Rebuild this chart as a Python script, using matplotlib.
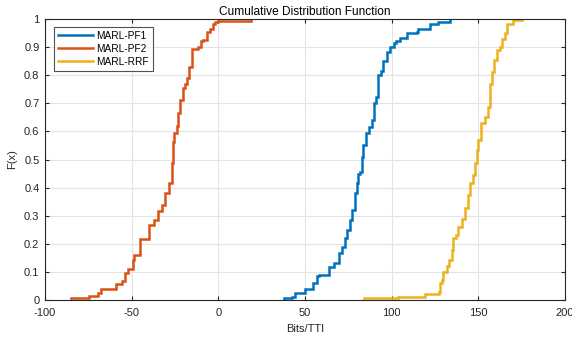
import matplotlib
matplotlib.use("Agg")
import matplotlib.pyplot as plt
import numpy as np

plt.rcParams['font.family'] = ['Liberation Sans', 'DejaVu Sans']
plt.rcParams['axes.unicode_minus'] = False

# Step breakpoints (x) and CDF level after each step (F)
pf1_x = [38, 42.3, 44.2, 50, 54.8, 56.7, 58.1, 64.1, 66.7, 69.8, 71.2, 73.1, 74.4, 76, 76.9,
         78.8, 80.2, 80.8, 81.7, 82.7, 83.6, 85.2, 87.1, 88.5, 89.8, 91, 92.3, 93.8, 95.2,
         97.5, 99, 101.3, 102.5, 104.8, 108.7, 114.4, 115.4, 122.1, 127, 133.7]
pf1_F = [0.006, 0.012, 0.026, 0.038, 0.059, 0.085, 0.09, 0.119, 0.13, 0.166, 0.19, 0.219, 0.249,
         0.285, 0.32, 0.38, 0.415, 0.448, 0.455, 0.51, 0.552, 0.593, 0.617, 0.64, 0.7, 0.724,
         0.8, 0.816, 0.85, 0.884, 0.901, 0.913, 0.92, 0.931, 0.95, 0.955, 0.966, 0.982, 0.99, 1.0]

pf2_x = [-85.2, -74.4, -69.6, -67.7, -59, -55.8, -53.8, -52.3, -49.4, -48.5, -45.2, -39.8,
         -36.9, -35, -32.7, -30.8, -28.3, -26.9, -26, -25.4, -24, -23.4, -22.1, -20.6, -19.2,
         -18.3, -16.9, -15.4, -11.5, -10, -8.6, -6.7, -4.8, -3.3, -1.9, 0, 18.7]
pf2_F = [0.007, 0.015, 0.026, 0.038, 0.057, 0.069, 0.095, 0.11, 0.142, 0.16, 0.216, 0.267,
         0.285, 0.317, 0.338, 0.38, 0.415, 0.486, 0.563, 0.593, 0.619, 0.664, 0.712, 0.753, 0.77,
         0.789, 0.83, 0.892, 0.9, 0.92, 0.927, 0.955, 0.966, 0.983, 0.99, 0.994, 1.0]

rrf_x = [84.2, 103.8, 119.2, 127.5, 127.9, 128.8, 129.8, 131.7, 133.3, 134.6, 135.2, 137.1,
         138.5, 140.4, 142.3, 144.2, 145.2, 146.7, 148.1, 149.4, 150, 151.4, 153.9, 155.8,
         156.7, 157.7, 159, 160.6, 162.5, 163.8, 165.4, 166.3, 169.8, 175]
rrf_F = [0.006, 0.012, 0.021, 0.03, 0.059, 0.07, 0.1, 0.12, 0.142, 0.178, 0.219, 0.23, 0.26,
         0.29, 0.326, 0.374, 0.415, 0.445, 0.486, 0.534, 0.57, 0.63, 0.652, 0.688, 0.77, 0.812,
         0.854, 0.89, 0.901, 0.93, 0.95, 0.982, 0.995, 1.0]

labels = ['MARL-PF1', 'MARL-PF2', 'MARL-RRF']
colors = ['#0072BD', '#D95319', '#EDB120']
x_ticks = [-100, -50, 0, 50, 100, 150, 200]
y_ticks = [0, 0.1, 0.2, 0.3, 0.4, 0.5, 0.6, 0.7, 0.8, 0.9, 1]

fig = plt.figure(figsize=(5.72, 3.39), dpi=100)
ax = fig.add_axes([45/572, 1-300/339, 520/572, 281/339])

for xs, fs, lab, c in zip([pf1_x, pf2_x, rrf_x], [pf1_F, pf2_F, rrf_F], labels, colors):
    xs = np.array(xs)
    fs = np.array(fs)
    px = np.concatenate([[xs[0]], xs])
    py = np.concatenate([[0.0], fs])
    ax.step(px, py, where='post', color=c, lw=1.8, label=lab, solid_joinstyle='miter')

ax.set_xlim(-100, 200)
ax.set_ylim(0, 1)
ax.set_xticks(x_ticks)
ax.set_yticks(y_ticks)
ax.set_yticklabels([('%g' % v) for v in y_ticks])
ax.grid(True, color='#e3e3e3', lw=0.8)
ax.set_axisbelow(True)
ax.tick_params(direction='in', length=3, width=0.8, top=True, right=True,
               labelsize=8, colors='#262626')
ax.tick_params(axis='x', pad=6)
ax.tick_params(axis='y', pad=4)
for s in ax.spines.values():
    s.set_color('#262626')
    s.set_linewidth(0.8)
ax.set_xlabel('Bits/TTI', fontsize=8, color='#262626', labelpad=4)
ax.set_ylabel('F(x)', fontsize=8, color='#262626', labelpad=5)
ax.set_title('Cumulative Distribution Function', fontsize=8.6, color='black', pad=3)
leg = ax.legend(loc='upper left', fontsize=7.3, frameon=True, fancybox=False,
                edgecolor='#262626', handlelength=3.5, borderpad=0.4, labelspacing=0.3,
                handletextpad=0.3, borderaxespad=0, bbox_to_anchor=(0.017, 0.972))
leg.get_frame().set_linewidth(0.8)

fig.savefig('out.png', dpi=100)
